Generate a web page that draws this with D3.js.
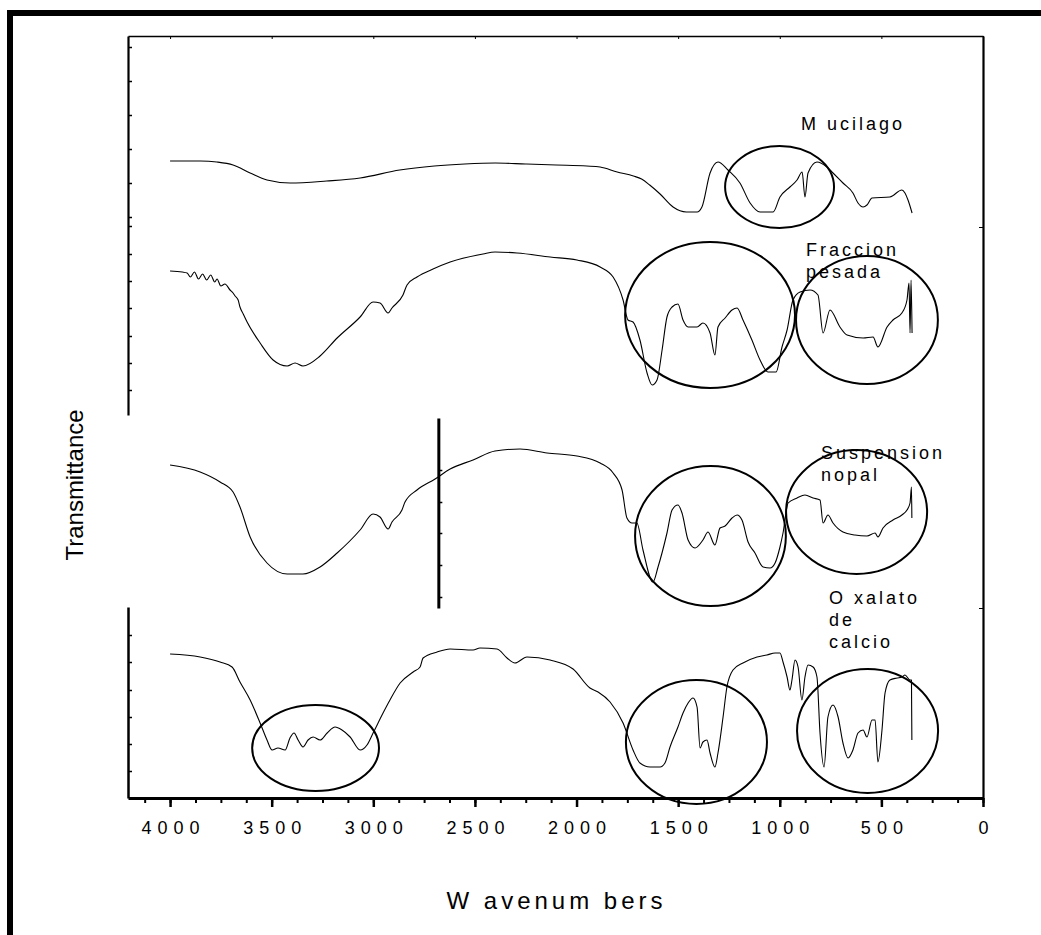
<!DOCTYPE html>
<html><head><meta charset="utf-8">
<script src="https://cdn.jsdelivr.net/npm/d3@7"></script>
<style>
body{margin:0;background:#fff}
svg{display:block}
text{font-family:"Liberation Sans",Arial,sans-serif;fill:#000}
</style>
</head><body>
<svg id="chart" width="1041" height="935"></svg>
<script>
// ---- data: [wavenumber (cm-1), transmittance (a.u., offset traces)] ----
const mucilago = [[4000,637],[3850,637],[3770,636],[3690,633],[3606,625],[3523,618],[3410,615],[3230,617],[3065,620],[2870,628],[2700,632],[2550,634],[2400,635],[2250,634],[2100,633],[1950,632],[1884,631],[1800,626],[1720,622],[1680,619],[1640,613],[1589,604],[1525,591],[1460,586],[1407,586],[1383,591],[1343,625],[1304,636],[1255,628],[1196,615],[1146,595],[1097,586],[1033,586],[999,601],[950,611],[915,618],[890,626],[876,601],[861,625],[817,636],[768,631],[738,625],[689,615],[640,605],[615,595],[590,591],[571,593],[546,600],[458,601],[399,608],[384,605],[369,598],[349,585]];

const fraccionPesada = [[4000,527],[3940,526],[3916,525],[3900,521],[3880,526],[3860,519],[3840,524],[3820,518],[3800,523],[3780,516],[3769,519],[3750,512],[3730,514],[3705,508],[3690,505],[3680,502],[3665,498],[3656,491],[3640,484],[3621,476],[3557,455],[3493,438],[3424,432],[3385,435],[3346,432],[3262,442],[3178,460],[3065,481],[3001,496],[2967,495],[2927,485],[2908,490],[2854,503],[2834,513],[2785,521],[2706,529],[2622,536],[2460,544],[2401,546],[2293,545],[2130,541],[1998,538],[1884,531],[1820,521],[1771,498],[1747,478],[1722,476],[1688,458],[1653,425],[1628,413],[1604,418],[1579,448],[1555,481],[1530,491],[1501,494],[1476,478],[1451,471],[1407,471],[1378,475],[1343,465],[1319,443],[1304,471],[1269,480],[1235,488],[1210,490],[1181,478],[1137,458],[1097,438],[1058,426],[1018,426],[989,451],[964,468],[935,498],[900,506],[851,508],[812,503],[787,465],[753,488],[704,471],[669,463],[590,460],[541,461],[517,451],[472,471],[443,478],[399,485],[374,498],[364,515],[359,465],[354,518],[349,465]];

const suspensionNopal = [[4000,333],[3852,326],[3754,316],[3690,306],[3656,291],[3606,261],[3523,235],[3424,224],[3346,224],[3262,231],[3178,245],[3065,268],[3001,284],[2967,281],[2927,269],[2908,276],[2859,288],[2844,296],[2785,308],[2696,319],[2622,329],[2509,338],[2401,347],[2278,349],[2145,345],[1998,342],[1884,335],[1820,325],[1776,308],[1752,280],[1727,275],[1703,275],[1673,248],[1624,216],[1599,231],[1555,265],[1530,288],[1501,293],[1481,285],[1451,258],[1417,250],[1378,258],[1353,266],[1319,253],[1294,270],[1269,272],[1235,280],[1210,283],[1186,278],[1156,256],[1122,245],[1082,231],[1048,230],[1023,235],[999,251],[984,265],[959,295],[915,300],[876,303],[836,300],[802,298],[787,275],[763,283],[738,275],[689,266],[630,263],[571,262],[531,265],[517,261],[492,270],[443,278],[399,283],[374,288],[359,295],[352,311],[350,280]];

const oxalatoCalcio = [[4000,144],[3852,141],[3754,136],[3695,131],[3656,116],[3606,98],[3557,75],[3523,58],[3498,48],[3469,50],[3434,48],[3410,60],[3390,65],[3370,58],[3346,51],[3321,58],[3296,61],[3262,58],[3227,65],[3188,71],[3154,68],[3114,61],[3065,48],[3031,53],[3001,65],[2952,85],[2918,98],[2868,115],[2804,126],[2770,131],[2755,140],[2686,146],[2622,149],[2509,148],[2475,150],[2391,149],[2342,140],[2303,135],[2244,141],[2130,138],[2017,129],[1934,110],[1894,106],[1835,96],[1771,75],[1722,48],[1688,35],[1638,31],[1589,31],[1565,35],[1540,51],[1501,71],[1476,85],[1451,95],[1427,100],[1407,91],[1392,50],[1378,56],[1358,58],[1343,45],[1319,31],[1304,45],[1279,81],[1260,111],[1230,128],[1181,135],[1112,141],[1063,143],[1023,145],[999,145],[984,136],[964,121],[950,108],[940,118],[925,138],[910,131],[891,98],[876,121],[861,133],[836,131],[817,121],[802,65],[782,31],[763,81],[738,93],[713,81],[689,55],[664,40],[640,48],[615,65],[590,68],[571,61],[546,78],[531,78],[517,36],[497,68],[482,105],[458,118],[423,120],[399,121],[384,123],[359,118],[352,118],[350,58]];

const seriesNames = ["Mucilago","Fraccion pesada","Suspension nopal","Oxalato de calcio"];
// label lines as printed on the figure
const seriesLabelLines = [["M ucilago"],["Fraccion","pesada"],["Suspension","nopal"],["O xalato","de","calcio"]];
const seriesLabelAnchor = [[895,668],[871,542],[797,339],[758,194]]; // [wavenumber, a.u.] of first label line

// highlighted band regions: [centre cm-1, centre a.u., half-width cm-1, half-height a.u.]
const bandEllipses = [[1001,611,268,41],[1343,483,418,73],[571,478,349,64],[1341,262,371,70],[622,286,347,62],[3284,50,312,43],[1410,56,347,62],[568,67,347,62]];

const xMajorTicks = [4000,3500,3000,2500,2000,1500,1000,500,0];
const xTickLabels = ["4000","3500","3000","2500","2000","1500","1000","500","0"];
const xMinorStep = 125;
const xAxisMax = 4207;
const yMax = 762;

// y-axis break segments [top a.u., bottom a.u.] and tick values
const yAxisUpper = [762,383];
const yAxisUpperTicks = [751,717,683,649,615,581,572,544,517,490,462,435,408];
const yAxisMiddle = [380,190];
const yAxisMiddleTicks = [328,296,265,233,201];
const yAxisMiddleWn = 2680;
const yAxisLower = [191,0];
const yAxisLowerTicks = [163,136,108,81,54,27];

const svg = d3.select("#chart");
const L = 128, R = 983, T = 36, B = 798;

const x = d3.scaleLinear().domain([xAxisMax, 0]).range([L, R]);
const y = d3.scaleLinear().domain([0, yMax]).range([B, T]);

// outer frame (left + top)
svg.append("line").attr("x1",10).attr("x2",10).attr("y1",10).attr("y2",935).attr("stroke","#000").attr("stroke-width",6);
svg.append("line").attr("x1",7).attr("x2",1041).attr("y1",13).attr("y2",13).attr("stroke","#000").attr("stroke-width",6);

// bottom axis: minor + major ticks
const minorTicks = d3.range(0, xAxisMax, xMinorStep);
const gMinor = svg.append("g").attr("transform",`translate(0,${B})`)
  .call(d3.axisBottom(x).tickValues(minorTicks).tickSize(5).tickSizeOuter(0).tickFormat(""));
gMinor.select(".domain").attr("stroke-width",3);
gMinor.selectAll(".tick line").attr("stroke-width",2);
const gMajor = svg.append("g").attr("transform",`translate(0,${B})`)
  .call(d3.axisBottom(x).tickValues(xMajorTicks).tickSize(9).tickSizeOuter(0)
        .tickFormat((d,i)=>xTickLabels[i]));
gMajor.select(".domain").remove();
gMajor.selectAll(".tick line").attr("stroke-width",2.5);
gMajor.selectAll(".tick text").attr("font-size",18).attr("y",36).attr("dy",0)
  .attr("letter-spacing","6px").attr("dx","3px")
  .style("font-family",'"Liberation Sans",Arial,sans-serif');

// top axis
const gTop = svg.append("g").attr("transform",`translate(0,${T})`)
  .call(d3.axisBottom(x).tickValues(xMajorTicks).tickSize(3).tickSizeOuter(0).tickFormat(""));
gTop.select(".domain").attr("stroke-width",1.5);

// right axis
const gRight = svg.append("g").attr("transform",`translate(${R},0)`)
  .call(d3.axisLeft(y).tickValues([571,190]).tickSize(4).tickSizeOuter(0).tickFormat(""));
gRight.select(".domain").attr("stroke-width",2.2);

// broken left axis
function ySeg(seg, ticks, xpos, w){
  const s = d3.scaleLinear().domain(seg).range([y(seg[0]), y(seg[1])]);
  const g = svg.append("g").attr("transform",`translate(${xpos},0)`)
    .call(d3.axisRight(s).tickValues(ticks).tickSize(4).tickSizeOuter(0).tickFormat(""));
  g.select(".domain").attr("stroke-width",w);
  g.selectAll(".tick line").attr("stroke-width",1.5);
}
ySeg(yAxisUpper, yAxisUpperTicks, L, 2.2);
ySeg(yAxisMiddle, yAxisMiddleTicks, x(yAxisMiddleWn), 3);
ySeg(yAxisLower, yAxisLowerTicks, L, 2.5);

// spectra
const line = d3.line().curve(d3.curveMonotoneX).x(d=>x(d[0])).y(d=>y(d[1]));
[mucilago, fraccionPesada, suspensionNopal, oxalatoCalcio].forEach((s,i)=>{
  svg.append("path").datum(s).attr("d",line).attr("fill","none")
    .attr("stroke","#000").attr("stroke-width",1.1).attr("stroke-linejoin","round")
    .attr("class","series").attr("data-name",seriesNames[i]);
});

// band ellipses
const pxPerWn = Math.abs(x(1)-x(0));
const pxPerAu = Math.abs(y(1)-y(0));
svg.selectAll("ellipse.band").data(bandEllipses).join("ellipse").attr("class","band")
  .attr("cx",d=>x(d[0])).attr("cy",d=>y(d[1]))
  .attr("rx",d=>d[2]*pxPerWn).attr("ry",d=>d[3]*pxPerAu)
  .attr("fill","none").attr("stroke","#000").attr("stroke-width",2);

// series labels
seriesLabelLines.forEach((lines,i)=>{
  const t = svg.append("text").attr("x",x(seriesLabelAnchor[i][0])).attr("y",y(seriesLabelAnchor[i][1]))
    .attr("font-size",18).attr("letter-spacing","3px");
  lines.forEach((ln,j)=>{
    t.append("tspan").attr("x",x(seriesLabelAnchor[i][0])).attr("dy",j===0?0:22).text(ln);
  });
});

// axis titles
svg.append("text").attr("transform",`translate(83,485) rotate(-90)`)
  .attr("text-anchor","middle").attr("font-size",24).text("Transmittance");
svg.append("text").attr("x",(L+R)/2-1).attr("y",909).attr("text-anchor","middle")
  .attr("font-size",24).attr("letter-spacing","4px").attr("dx","2px").text("W avenum bers");
</script>
</body></html>
